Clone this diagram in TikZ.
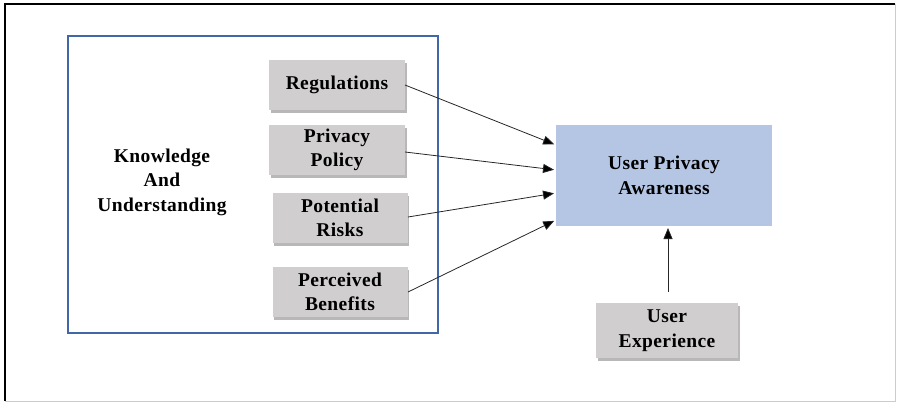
\documentclass[tikz,border=0pt]{standalone}
\usepackage{fontspec}
\setmainfont{Liberation Serif}[LetterSpace=2]
\usetikzlibrary{arrows.meta,shadows}
\definecolor{boxgray}{HTML}{D0CECE}
\definecolor{bluefill}{HTML}{B4C6E4}
\definecolor{frameblue}{HTML}{4267A8}
\begin{document}
\begin{tikzpicture}[x=1pt,y=-1pt,
  txt/.style={font=\fontsize{19.5}{24.5}\selectfont\bfseries, align=center},
  graybox/.style={txt, fill=boxgray, draw=none, minimum width=136pt, minimum height=50pt,
    inner sep=0pt,
    drop shadow={shadow xshift=1.5pt, shadow yshift=-3pt, fill=black!35, opacity=0.8}},
  arr/.style={draw=black!85, line width=0.8pt, -{Triangle[length=11pt,width=9pt,fill=black]}, shorten >=2pt}]
\useasboundingbox (0,0) rectangle (897,402);
% outer frame
\draw[black!20, line width=0.8pt] (895,4) -- (895,401) -- (5,401);
\draw[black, line width=2pt] (5,401) -- (5,4) -- (895,4);
% blue framing box
\node[draw=frameblue, line width=1.2pt, minimum width=370pt, minimum height=297pt, inner sep=0pt] (kbox) at (253,184.5) {};
\node[txt] (know) at (162,182) {Knowledge\\And\\Understanding};
\node[graybox] (reg) at (337,85) {Regulations};
\node[graybox] (pp) at (337,150) {Privacy\\Policy};
\node[graybox, minimum width=135pt] (pr) at (340,218) {Potential\\Risks};
\node[graybox, minimum width=135pt] (pb) at (340,292) {Perceived\\Benefits};
\node[txt, fill=bluefill, minimum width=216pt, minimum height=101pt, inner sep=0pt] (upa) at (664,175.5) {User Privacy\\Awareness};
\node[graybox, minimum width=142pt, minimum height=55pt] (ux) at (667,330.5) {User\\Experience};
% arrows
\coordinate (t1) at (556,145);
\coordinate (t2) at (556,170);
\coordinate (t3) at (556,193);
\coordinate (t4) at (556,220);
\coordinate (s1) at (405,85);
\coordinate (s2) at (405,152);
\coordinate (s3) at (408,217);
\coordinate (s4) at (408,292);
\coordinate (s5) at (668,292);
\coordinate (t5) at (668,226);
\draw[arr] (s1) -- (t1);
\draw[arr] (s2) -- (t2);
\draw[arr] (s3) -- (t3);
\draw[arr] (s4) -- (t4);
\draw[arr] (s5) -- (t5);
\end{tikzpicture}
\end{document}
